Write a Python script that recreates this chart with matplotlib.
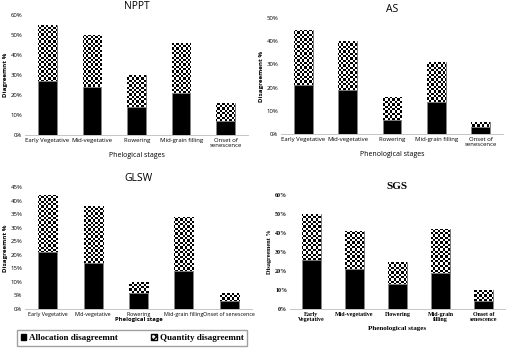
import numpy as np
import matplotlib.pyplot as plt
from matplotlib.patches import Patch

stages = ['Early Vegetative', 'Mid-vegetative', 'Flowering', 'Mid-grain filling', 'Onset of\nsenescence']

# allocation / total disagreement (%) per panel
nppt_alloc = [27, 24, 14, 21, 7]
nppt_total = [55, 50, 30, 46, 16]
as_alloc = [21, 19, 6, 14, 3]
as_total = [45, 40, 16, 31, 5]
glsw_alloc = [21, 17, 6, 14, 3]
glsw_total = [42, 38, 10, 34, 6]
sgs_alloc = [26, 21, 13, 19, 4]
sgs_total = [50, 41, 25, 42, 10]

W, H = 510, 354
fig = plt.figure(figsize=(W / 100, H / 100), dpi=100)

sans = 'Open Sans'
serif = 'Liberation Serif'


def px(x0, y0, x1, y1):
    return [x0 / W, 1 - y1 / H, (x1 - x0) / W, (y1 - y0) / H]


def panel(rect, title, alloc, total, ymax, step, ylabel, xlabel, labels, font, tfont, tsize=4.3):
    ax = fig.add_axes(rect)
    serif_font = font == serif
    x = np.arange(len(alloc))
    quant = np.array(total) - np.array(alloc)
    ax.bar(x, alloc, width=0.42, color='black', edgecolor='#888888', linewidth=0.5)
    tops = ax.bar(x, quant, bottom=alloc, width=0.42, color='white', edgecolor='#777777', linewidth=0.7)
    # checkerboard texture, ~2.3 px squares
    nc = int(rect[2] * W / 2.3)
    nr = int(rect[3] * H / 2.3)
    checker = (np.indices((nr, nc)).sum(axis=0) % 2).astype(float)
    for b in tops:
        im = ax.imshow(checker, cmap='gray_r', interpolation='nearest', aspect='auto',
                       extent=[0, 1, 0, 1], transform=ax.transAxes, zorder=1.5)
        im.set_clip_path(b)
    ax.set_xlim(-0.5, len(alloc) - 0.5)
    ax.set_ylim(0, ymax)
    yt = np.arange(0, ymax + 0.1, step)
    ax.set_yticks(yt)
    ax.set_yticklabels([f'{int(v)}%' for v in yt], fontsize=4.3, family=font,
                       fontweight='bold' if serif_font else 'normal')
    ax.set_xticks(x)
    ax.set_xticklabels(labels, fontsize=tsize, family=font,
                       fontweight='bold' if serif_font else 'normal', linespacing=1.0)
    ax.tick_params(length=0, pad=2)
    for s in ['top', 'right', 'left']:
        ax.spines[s].set_visible(False)
    ax.spines['bottom'].set_color('#bbbbbb')
    ax.spines['bottom'].set_linewidth(0.6)
    ax.set_title(title, fontsize=8 if serif_font else 7.5, family=tfont,
                 fontweight='bold' if serif_font else 'medium', pad=4)
    ax.set_ylabel(ylabel, fontsize=4.5, family=font, fontweight='bold', labelpad=2)
    ax.set_xlabel(xlabel, fontsize=5, family=font,
                  fontweight='bold' if serif_font else 'normal', labelpad=3)
    return ax


panel(px(25, 15, 248, 135), 'NPPT', nppt_alloc, nppt_total, 60, 10,
      'Diagreemnt %', 'Phelogical stages', stages, sans, sans)
panel(px(281, 18, 503, 134), 'AS', as_alloc, as_total, 50, 10,
      'Disagreement %', 'Phenological stages',
      ['Early Vegetative', 'Mid-vegetative', 'Flowering', 'Mid-grain filling', 'Onset of\nsenescence'],
      sans, sans)
ax3 = panel(px(25, 187, 252, 309), 'GLSW', glsw_alloc, glsw_total, 45, 5,
            'Disagreemnt %', 'Phelogical stage',
            ['Early Vegetative', 'Mid-vegetative', 'Flowering', 'Mid-grain filling', 'Onset of senescence'],
            sans, sans, tsize=3.9)
ax3.xaxis.labelpad = 0.5
ax3.xaxis.label.set_fontsize(4.2)
ax3.xaxis.label.set_fontweight('bold')
panel(px(290, 195, 505, 309), 'SGS', sgs_alloc, sgs_total, 60, 10,
      'Disagreement %', 'Phenological stages',
      ['Early\nVegetative', 'Mid-vegetative', 'Flowering', 'Mid-grain\nfilling', 'Onset of\nsenescence'],
      serif, serif)

handles = [Patch(facecolor='black', edgecolor='black'),
           Patch(facecolor='white', edgecolor='black', hatch='xxxxx')]
fig.legend(handles, ['Allocation disagreemnt', 'Quantity disagreemnt'],
           loc='lower left', bbox_to_anchor=(12 / W, 1 - 351 / H, 240 / W, 19 / H),
           ncol=2, mode='expand', fancybox=False, edgecolor='#888888',
           prop={'family': serif, 'weight': 'bold', 'size': 6.5},
           handlelength=0.6, handleheight=0.6, handletextpad=0.3, borderpad=0.45,
           columnspacing=1.0)

fig.savefig('out.png', dpi=100)
